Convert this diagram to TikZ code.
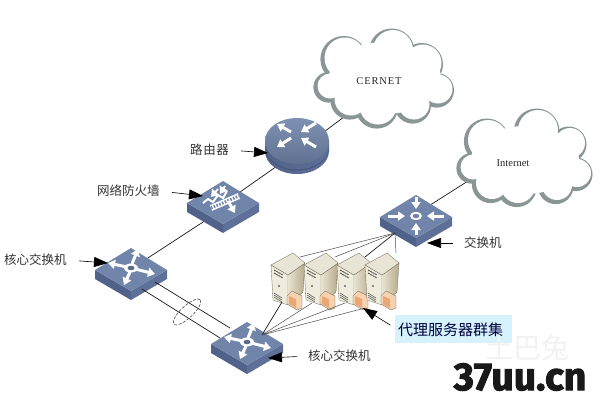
\documentclass[tikz,border=0pt]{standalone}
\usepackage{fontspec}
\setmainfont{Liberation Serif}
\newfontfamily\cjk{Noto Sans CJK SC}
\newfontfamily\wmark[BoldFeatures={FakeBold=2.5}]{Fira Sans}
\usetikzlibrary{arrows.meta}
\definecolor{topface}{HTML}{7185AA}
\definecolor{leftface}{HTML}{50628A}
\definecolor{rightface}{HTML}{5E7098}
\definecolor{cloudedge}{HTML}{8A9696}
\definecolor{srvfront}{HTML}{EFEBDD}
\definecolor{srvtopc}{HTML}{E9E5D6}
\definecolor{srvsidea}{HTML}{E8E3D0}
\definecolor{srvsideb}{HTML}{B5AA8C}
\definecolor{srvline}{HTML}{6E6650}
\definecolor{orgA}{HTML}{F6D2B0}
\definecolor{orgB}{HTML}{E9A676}
\tikzset{
  link/.style={draw=black!90,line width=0.7pt},
  thinlink/.style={draw=black!70,line width=0.5pt},
  leader/.style={draw=black,line width=0.6pt,-{Triangle[length=14pt,width=10pt]}},
  lbl/.style={font=\cjk\fontsize{12.5}{15}\selectfont,text=black!80,inner sep=0pt},
  netlbl/.style={font=\fontsize{10.5}{12}\selectfont,inner sep=0pt,text=black!85},
  iconarrow/.style={draw=white,line width=3pt,-{Triangle[length=7pt,width=9pt]}},
}
\newcommand\flatbox[3]{%
  \begin{scope}[shift={(#2,#3)}]
    \coordinate (#1) at (0,0);
    \fill[leftface] (-36,0) -- (0,21) -- (0,30) -- (-36,9) -- cycle;
    \fill[rightface] (36,0) -- (0,21) -- (0,30) -- (36,9) -- cycle;
    \fill[topface] (-36,0) -- (0,-22) -- (36,0) -- (0,21) -- cycle;
  \end{scope}}
\newcommand\crossicon[2]{%
  \begin{scope}[shift={(#1,#2)}]
    \draw[iconarrow] (-4,-1) -- (-23,-5);
    \draw[iconarrow] (1,-4) -- (7,-19);
    \draw[iconarrow] (4,1) -- (24,6);
    \draw[iconarrow] (-1,4) -- (-7,17);
    \fill[white] (0,0) ellipse (7pt and 4.5pt);
    \fill[topface!80!black] (0,0) ellipse (3.5pt and 2.2pt);
  \end{scope}}
\newcommand\serverbox[2]{%
  \begin{scope}[shift={(#1,#2)}]
    \filldraw[draw=srvline,line width=0.3pt,fill=srvfront] (-22,12) -- (-5,22) -- (-5,52) -- (-20,47) -- cycle;
    \shade[left color=srvsidea,right color=srvsideb] (-5,22) -- (12,10) -- (10,39) -- (-5,52) -- cycle;
    \draw[srvline,line width=0.3pt] (-5,22) -- (12,10) -- (10,39) -- (-5,52);
    \filldraw[draw=srvline,line width=0.3pt,fill=srvtopc] (0,0) -- (-22,12) -- (-5,22) -- (12,10) -- cycle;
    \draw[black!70,line width=0.9pt,dash pattern=on 2pt off 0.6pt] (-19,17) -- (-10,22);
    \draw[black!70,line width=0.9pt,dash pattern=on 2pt off 0.6pt] (-19,20) -- (-10,25);
    \fill[black!60] (-14,33) circle (1.2pt);
    \foreach \k in {0,2,4} \draw[black!60,line width=0.6pt] (-19,40+\k) -- (-11,45+\k);
    \fill[orgA] (-6,43) -- (-1,38) -- (9,43) -- (9,55) -- (4,57) -- (-6,51) -- cycle;
    \fill[orgB] (-4,43) -- (3,46) -- (3,55) -- (-4,51) -- cycle;
    \draw[srvline,line width=0.3pt] (-6,43) -- (-1,38) -- (9,43) -- (9,55) -- (4,57) -- (-6,51) -- cycle;
  \end{scope}}
\begin{document}
\begin{tikzpicture}[x=1pt,y=-1pt]
\useasboundingbox (0,0) rectangle (600,400);
\fill[white] (0,0) rectangle (600,400);

% anchor points
\coordinate (routerLink) at (297,152);
\coordinate (cloudA) at (352,111);
\coordinate (cloudB) at (476,176);
\coordinate (fwUp) at (223,204);
\coordinate (fwDown) at (223,209);
\coordinate (coreUp) at (131,269);
\coordinate (swLink) at (416,214);
\coordinate (coreLa) at (155,282);
\coordinate (coreLb) at (142,289);
\coordinate (coreRa) at (230,328);
\coordinate (coreRb) at (220,338);
\coordinate (swFan) at (395,233);
\coordinate (coreFan) at (262,335);
\coordinate (srvAt) at (300,257);
\coordinate (srvBt) at (335,257);
\coordinate (srvCt) at (365,257);
\coordinate (srvDt) at (396,253);
\coordinate (srvAb) at (282,302);
\coordinate (srvBb) at (312,303);
\coordinate (srvCb) at (345,303);
\coordinate (srvDb) at (365,308);

% links behind devices
\draw[link] (routerLink) -- (cloudA);
\draw[link] (fwUp) -- (routerLink);
\draw[link] (coreUp) -- (fwDown);
\draw[link] (swLink) -- (cloudB);

% clouds
\begin{scope}[shift={(-1.3,1.3)}]
\foreach \x/\y/\r in {345/58/23.3,330/86/15.3,351/99/19.3,378/106/21.3,414/104/18.3,438/89/17.3,423/63/21.3,393/50/22.8}
  \fill[cloudedge] (\x,\y) circle (\r pt);
\foreach \x/\y/\r in {488/140/22.8,473/167/15.3,492/183/18.8,518/186/19.8,557/185/17.8,577/173/16.8,570/143/17.8,538/130/22.8}
  \fill[cloudedge] (\x,\y) circle (\r pt);
\end{scope}
\foreach \x/\y/\r in {345/58/20.5,330/86/12.5,351/99/16.5,378/106/18.5,414/104/15.5,438/89/14.5,423/63/18.5,393/50/20,
                      488/140/20,473/167/12.5,492/183/16,518/186/17,557/185/15,577/173/14,570/143/15,538/130/20}
  \fill[white] (\x,\y) circle (\r pt);
\fill[white] (385,78) ellipse (56pt and 36pt);
\fill[white] (525,160) ellipse (54pt and 34pt);
\node[netlbl,font=\fontsize{10.5}{12}\selectfont\addfontfeatures{LetterSpace=8}] (cernet) at (379,81) {CERNET};
\node[netlbl] (internet) at (513,163) {Internet};

% router
\coordinate (router) at (297,141);
\shade[left color=leftface,right color=rightface] (265,141) rectangle (329,151);
\shade[left color=leftface,right color=rightface] (297,151) ellipse (32pt and 23pt);
\fill[leftface!85!black] (297,147.5) ellipse (32pt and 23pt);
\shade[left color=leftface,right color=rightface] (297,146.5) ellipse (32pt and 23pt);
\shade[top color=topface!90!white,bottom color=topface!85!black] (297,141) ellipse (32pt and 23pt);
\begin{scope}[shift={(295,135)}]
  \draw[iconarrow] (-4,-3) -- (-18,-11);
  \draw[iconarrow] (-4,3) -- (-18,12);
  \draw[iconarrow] (21,-12) -- (6,-3);
  \draw[iconarrow] (21,12) -- (6,3);
\end{scope}

% firewall
\flatbox{firewall}{223}{203}
\begin{scope}[shift={(223,203)}]
  \draw[white,line width=2pt] (-20,0) -- (-15,-4) -- (-10,-1) -- (-5,-8) -- (0,-5) -- (4,-12);
  \draw[iconarrow,line width=1.8pt] (-5,-14) -- (-12,-6);
  \draw[iconarrow,line width=1.8pt] (2,-17) -- (-3,-9);
  \draw[white,line width=6pt] (-12,5) -- (16,-7);
  \draw[topface,line width=3pt,dash pattern=on 1.5pt off 1.5pt] (-12,5) -- (16,-7);
  \draw[iconarrow] (5,-2) -- (12,10);
\end{scope}

% switches
\flatbox{coreA}{131}{270}
\crossicon{131}{268}
\flatbox{coreB}{247}{344}
\crossicon{247}{342}
\flatbox{swTop}{416}{217}
\begin{scope}[shift={(416,216)}]
  \draw[iconarrow] (0,-19) -- (0,-7);
  \draw[iconarrow] (0,19) -- (0,7);
  \draw[iconarrow] (-28,0) -- (-11,0);
  \draw[iconarrow] (28,0) -- (11,0);
  \fill[white] (0,0) ellipse (6pt and 4pt);
  \fill[topface] (0,0) ellipse (3.4pt and 2.2pt);
\end{scope}

% servers
\serverbox{293}{253}
\serverbox{326}{253}
\serverbox{359}{253}
\serverbox{387}{253}

% links over devices
\draw[link] (coreLa) -- (coreRa);
\draw[link] (coreLb) -- (coreRb);
\draw[black!70,line width=0.6pt,dash pattern=on 3pt off 1.5pt,shift={(187,312)},rotate=43] (0,0) ellipse (18pt and 6pt);
\draw[thinlink] (swFan) -- (srvAt);
\draw[thinlink] (swFan) -- (srvBt);
\draw[link] (swFan) -- (srvCt);
\draw[thinlink] (swFan) -- (srvDt);
\draw[link] (coreFan) -- (srvAb);
\draw[thinlink] (coreFan) -- (srvBb);
\draw[thinlink] (coreFan) -- (srvCb);
\draw[thinlink] (coreFan) -- (srvDb);

% labels
\node[lbl,anchor=west,font=\cjk\fontsize{12.5}{15}\selectfont\addfontfeatures{LetterSpace=5}] (lRouter) at (190,150) {路由器};
\node[lbl,anchor=west] (lFw) at (97,191) {网络防火墙};
\node[lbl,anchor=west] (lCoreA) at (4,260) {核心交换机};
\node[lbl,anchor=west] (lCoreB) at (308,356) {核心交换机};
\node[lbl,anchor=west] (lSw) at (464,243) {交换机};
\fill[cyan!16!white] (395,315) rectangle (512,343);
\node[lbl,anchor=west,text=blue!25!black,font=\cjk\fontsize{15}{18}\selectfont] (lSrv) at (398,330) {代理服务器群集};

\coordinate (tRouter) at (268,153);
\coordinate (tFw) at (203,196);
\coordinate (tCoreA) at (108,263);
\coordinate (tCoreB) at (268,358);
\coordinate (tSw) at (427,243);
\coordinate (tSrv) at (363,308);
\draw[leader,shorten <=12pt] (lRouter.east) -- (tRouter);
\draw[leader,shorten <=12pt] (lFw.east) -- (tFw);
\draw[leader,shorten <=12pt] (lCoreA.east) -- (tCoreA);
\draw[leader,shorten <=11pt] (lCoreB.west) -- (tCoreB);
\draw[leader,shorten <=11pt] (lSw.west) -- (tSw);
\draw[leader,shorten <=9pt] (lSrv.west) -- (tSrv);

% watermarks
\node[font=\cjk\fontsize{28}{30}\selectfont,text=black!5,inner sep=0pt] (wmA) at (527,348) {土巴兔};
\node[font=\wmark\bfseries\fontsize{39}{41}\selectfont,text=black!90,inner sep=0pt] (wmB) at (520,377) {37uu.cn};
\end{tikzpicture}
\end{document}
